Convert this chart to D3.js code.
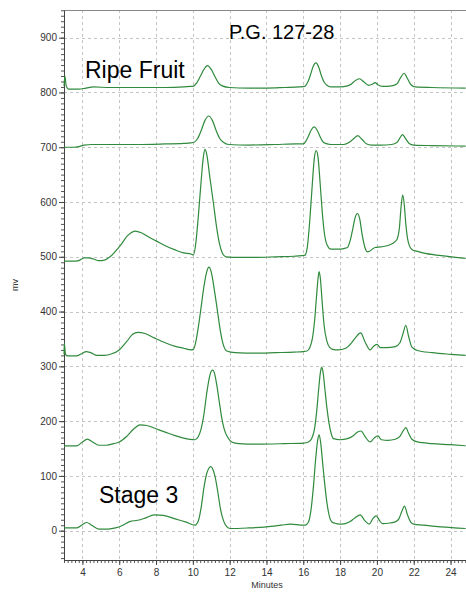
<!DOCTYPE html>
<html><head><meta charset="utf-8">
<script src="https://cdn.jsdelivr.net/npm/d3@7"></script>
<style>body{margin:0;background:#fff}svg{display:block}</style>
</head><body>
<script>
// ---- data ----
const xTicks = [4,6,8,10,12,14,16,18,20,22,24];
const yTicks = [0,100,200,300,400,500,600,700,800,900];
const xTitle = "Minutes";
const yTitle = "mv";
const chartTitle = "P.G. 127-28";
const labelTop = "Ripe Fruit";
const labelBottom = "Stage 3";

const traceRipe = [[3.0,812],[3.05,830],[3.12,812],[3.25,806],[3.8,806],[4.2,808],[4.6,810],[5.5,809],[7,809],[8.5,809],[9.5,810],[9.9,811],
 [10.0,811],[10.2,817],[10.4,829],[10.6,842],[10.79,849],[11.0,842],[11.2,829],[11.4,817],[11.6,812],[12.0,809],[13,808],[14,808],[15,809],[15.8,810],
 [16.08,811],[16.23,818],[16.38,831],[16.53,847],[16.68,854],[16.83,847],[16.98,831],[17.13,819],[17.28,813],[17.5,810],[18.0,810],[18.4,812],
 [18.6,815],[18.8,821],[19.05,825],[19.3,819],[19.55,813],[19.75,815],[19.9,818],[20.05,814],[20.3,811],[20.8,812],[21.1,816],[21.3,828],[21.48,835],[21.65,826],[21.85,814],[22.1,810],[23,809],[24.82,808]];

const trace2 = [[3.0,700],[3.5,700],[3.8,701],[4.1,704],[4.5,705],[5.5,705],[7,705],[8.5,706],[9.5,707],[9.9,708],
 [10.06,709],[10.26,716],[10.46,731],[10.66,749],[10.86,757],[11.06,749],[11.26,731],[11.46,716],[11.66,709],[11.95,705],[13,704],[14.5,705],[15.6,706],
 [16.0,706],[16.14,711],[16.29,721],[16.44,732],[16.59,737],[16.74,732],[16.89,721],[17.04,711],[17.2,707],[17.5,705],[18.2,705],[18.5,709],[18.75,716],[18.96,721],[19.2,714],[19.45,706],[19.7,704],[20.2,704],[20.8,705],[21.1,709],[21.25,717],[21.4,723],[21.55,716],[21.75,707],[22.0,704],[23,703],[24.82,702]];

const trace3 = [[3.0,492],[3.5,492],[3.8,493],[4.1,498],[4.35,498],[4.6,496],[4.9,493],[5.2,494],[5.5,500],[6.0,518],[6.5,540],[6.86,547],[7.2,544],[7.6,536],[8.0,529],[8.5,520],[9.0,513],[9.5,507],[9.9,505],
 [10.03,503],[10.15,522],[10.3,575],[10.45,638],[10.57,682],[10.66,696],[10.76,686],[10.92,646],[11.11,600],[11.3,552],[11.46,522],[11.6,507],[11.8,500],
 [12.5,499],[13.5,499],[14.5,500],[15.5,501],[15.9,502],
 [16.1,503],[16.22,518],[16.35,565],[16.48,628],[16.6,680],[16.7,694],[16.8,682],[16.92,632],[17.03,582],[17.15,542],[17.3,521],[17.5,514],[17.9,514],[18.2,515],
 [18.4,517],[18.55,530],[18.7,553],[18.82,572],[18.94,579],[19.06,570],[19.2,540],[19.35,517],[19.48,509],[19.6,510],[19.75,514],[19.9,517],[20.2,518],[20.64,521],[21.0,528],
 [21.12,534],[21.22,552],[21.31,590],[21.4,613],[21.49,594],[21.57,560],[21.66,534],[21.78,519],[21.92,513],[22.2,510],[22.5,507],[23.5,502],[24.82,497]];

const trace4 = [[3.0,322],[3.02,342],[3.08,322],[3.2,319],[3.7,319],[4.0,324],[4.2,327],[4.45,325],[4.8,320],[5.2,320],[5.6,323],[6.0,330],[6.4,345],[6.75,359],[7.0,362],[7.4,360],[7.9,352],[8.5,343],[9.0,337],[9.5,333],[9.9,330],[10.03,331],
 [10.15,343],[10.3,372],[10.45,408],[10.6,445],[10.75,472],[10.88,481],[11.0,472],[11.18,437],[11.35,398],[11.5,364],[11.65,340],[11.84,328],[12.3,325],[13.5,324],[14.5,325],[15.5,326],[16.0,327],[16.2,328],
 [16.35,334],[16.5,352],[16.62,385],[16.72,428],[16.8,460],[16.86,473],[16.93,460],[17.02,420],[17.13,375],[17.28,346],[17.45,334],[17.6,331],[17.9,330],[18.3,333],[18.6,342],[18.85,353],[19.12,361],[19.35,345],[19.63,330],[19.8,336],[20.0,340],[20.2,334],[20.5,334],[21.0,336],[21.25,343],[21.42,360],[21.57,375],[21.72,355],[21.9,335],[22.2,329],[23.0,325],[24.0,322],[24.82,320]];

const trace5 = [[3.0,155],[3.7,155],[4.0,162],[4.27,167],[4.55,162],[4.9,156],[5.3,156],[5.7,159],[6.0,162],[6.4,172],[6.8,186],[7.13,193],[7.5,192],[8.0,186],[8.5,180],[9.0,174],[9.5,169],[10.12,166],
 [10.3,172],[10.45,186],[10.6,212],[10.75,250],[10.9,280],[11.0,291],[11.08,293],[11.17,288],[11.3,266],[11.45,232],[11.57,206],[11.7,186],[11.9,170],[12.11,162],[12.5,159],[13.5,158],[15,159],[16,160],[16.28,162],
 [16.45,168],[16.6,184],[16.72,215],[16.84,260],[16.93,289],[17.0,298],[17.07,290],[17.17,260],[17.28,225],[17.4,196],[17.52,177],[17.64,168],[18.0,166],[18.4,168],[18.7,173],[18.95,180],[19.14,182],[19.35,172],[19.63,162],[19.85,169],[20.05,173],[20.25,166],[20.6,165],[21.0,167],[21.25,172],[21.42,182],[21.57,188],[21.72,178],[21.9,167],[22.2,162],[23.0,159],[24.0,157],[24.82,155]];

const traceStage3 = [[3.0,5],[3.7,5],[4.0,11],[4.23,15],[4.5,10],[4.9,3],[5.4,3],[5.8,5],[6.2,10],[6.6,17],[7.0,19],[7.4,23],[7.9,29],[8.4,28],[9.0,22],[9.6,16],[10.12,10],
 [10.3,18],[10.45,42],[10.6,78],[10.75,104],[10.87,114],[10.97,117],[11.06,114],[11.2,100],[11.35,72],[11.5,40],[11.68,17],[11.85,7],[12.02,4],[13,5],[14,7],[14.8,10],[15.3,12],[16.0,10],[16.1,10],
 [16.28,16],[16.42,38],[16.55,80],[16.67,130],[16.78,165],[16.86,175],[16.94,162],[17.04,128],[17.15,90],[17.28,52],[17.42,26],[17.55,16],[17.8,13],[18.1,12],[18.5,16],[18.8,23],[19.09,29],[19.35,18],[19.58,12],[19.78,22],[19.96,27],[20.15,18],[20.3,13],[20.7,14],[21.0,16],[21.2,22],[21.35,35],[21.5,45],[21.65,30],[21.85,15],[22.0,12],[22.5,10],[23.5,7],[24.82,4]];

const traces = [traceRipe, trace2, trace3, trace4, trace5, traceStage3];

// ---- layout ----
const W = 466, H = 595;
const L = 64, R = 466, T = 10, B = 560;
const svg = d3.select("body").append("svg").attr("width", W).attr("height", H);

const x = d3.scaleLinear().domain([3, 24.84]).range([L, R]);
const y = d3.scaleLinear().domain([-53.5, 950.5]).range([B, T]);

// grid
const grid = svg.append("g").attr("stroke", "#c4c4c4").attr("stroke-dasharray", "3,3").attr("stroke-width", 1);
grid.selectAll("line.v").data(xTicks).join("line")
  .attr("x1", d => Math.round(x(d)) + 0.5).attr("x2", d => Math.round(x(d)) + 0.5)
  .attr("y1", T).attr("y2", B);
grid.selectAll("line.h").data(yTicks).join("line")
  .attr("y1", d => Math.round(y(d)) + 0.5).attr("y2", d => Math.round(y(d)) + 0.5)
  .attr("x1", L).attr("x2", R);

// top border
svg.append("line").attr("x1", L).attr("x2", R).attr("y1", T + 0.5).attr("y2", T + 0.5)
  .attr("stroke", "#888").attr("stroke-width", 1);

// axes
const fontFam = "Liberation Sans, Arial, sans-serif";
const xMinor = d3.range(3, 24.85, 0.2);
const yMinor = d3.range(-50, 951, 10);

const gx = svg.append("g").attr("transform", `translate(0,${B})`)
  .call(d3.axisBottom(x).tickValues(xMinor).tickSize(3).tickFormat(""));
gx.select(".domain").remove();
gx.selectAll("line").attr("stroke", "#555");
const gx2 = svg.append("g").attr("transform", `translate(0,${B})`)
  .call(d3.axisBottom(x).tickValues(xTicks).tickSize(5).tickSizeOuter(0).tickPadding(4));
gx2.select(".domain").attr("stroke", "#444");
gx2.selectAll("line").attr("stroke", "#444");
gx2.selectAll("text").attr("font-family", fontFam).attr("font-size", 10).attr("fill", "#333");

const gy = svg.append("g").attr("transform", `translate(${L},0)`)
  .call(d3.axisLeft(y).tickValues(yMinor).tickSize(3).tickFormat(""));
gy.select(".domain").remove();
gy.selectAll("line").attr("stroke", "#555");
const gy2 = svg.append("g").attr("transform", `translate(${L},0)`)
  .call(d3.axisLeft(y).tickValues(yTicks).tickSize(5).tickSizeOuter(0).tickPadding(2));
gy2.select(".domain").attr("stroke", "#444");
gy2.selectAll("line").attr("stroke", "#444");
gy2.selectAll("text").attr("font-family", fontFam).attr("font-size", 10).attr("fill", "#333");

// traces
const line = d3.line().x(d => x(d[0])).y(d => y(d[1])).curve(d3.curveMonotoneX);
svg.append("g").selectAll("path").data(traces).join("path")
  .attr("d", line).attr("fill", "none").attr("stroke", "#2f8a3c").attr("stroke-width", 1.2);

// texts
svg.append("text").attr("x", 229).attr("y", 39).attr("font-family", fontFam).attr("font-size", 20).attr("fill", "#000").text(chartTitle);
svg.append("text").attr("x", 85).attr("y", 78).attr("font-family", fontFam).attr("font-size", 23).attr("fill", "#000").text(labelTop);
svg.append("text").attr("x", 99).attr("y", 503).attr("font-family", fontFam).attr("font-size", 23).attr("fill", "#000").text(labelBottom);
svg.append("text").attr("x", 267).attr("y", 588).attr("text-anchor", "middle").attr("font-family", fontFam).attr("font-size", 9).attr("fill", "#333").text(xTitle);
svg.append("text").attr("transform", "translate(18,285) rotate(-90)").attr("text-anchor", "middle").attr("font-family", fontFam).attr("font-size", 9).attr("fill", "#333").text(yTitle);
</script>
</body></html>
